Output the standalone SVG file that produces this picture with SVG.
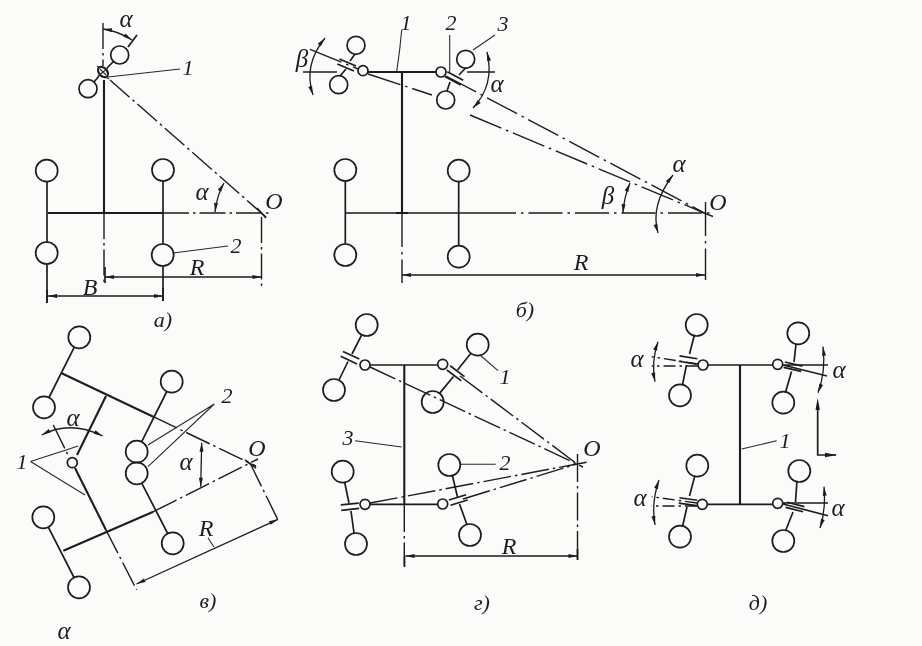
<svg xmlns="http://www.w3.org/2000/svg" xmlns:xlink="http://www.w3.org/1999/xlink" width="922" height="646" viewBox="0 0 922 646">
<style>
.l{fill:none;stroke:#1d1d1d;stroke-width:1.7}
.t{fill:none;stroke:#1d1d1d;stroke-width:2.1}
.n{fill:none;stroke:#2a2a2a;stroke-width:1.1}
.d{fill:none;stroke:#1d1d1d;stroke-width:1.4;stroke-dasharray:34 5 2.5 5}
.a{fill:none;stroke:#1d1d1d;stroke-width:1.3;marker-start:url(#ah);marker-end:url(#ah)}
.c{fill:none;stroke:#1d1d1d;stroke-width:1.7}
text{font-family:"Liberation Serif","Times New Roman",serif;font-style:italic;fill:#1d1d1d;text-anchor:middle}
.g{font-size:25px}.v{font-size:24px}.k{font-size:22px}
</style>
<defs>
<marker id="ah" viewBox="-10 -3 11 6" markerWidth="11" markerHeight="6" refX="0" refY="0" orient="auto-start-reverse" markerUnits="userSpaceOnUse"><path d="M0 0L-9-2L-9 2z" fill="#1d1d1d"/></marker>
<g id="bars"><path d="M-9-2.7H9M-9 2.7H9" fill="none" stroke="#1d1d1d" stroke-width="1.7"/></g>
<filter id="soft" x="0" y="0" width="100%" height="100%"><feGaussianBlur stdDeviation="0.35"/></filter>
</defs>
<rect width="922" height="646" fill="#fbfbfa"/>
<g filter="url(#soft)">

<g id="panel-a">
<g id="a-connectors">
<path class="t" d="M48 213H163M104 80V213"/>
<path class="l" d="M47 181V243M47 264V303M163 181V244M163 266V301"/>
<path class="l" d="M114 61L107 68M99 76L94 82"/>
<path class="d" d="M163 213H272M103 23V66M104 213V282M110 80L266 217M261.500 217V287" style="stroke-dasharray:26 4 2.500 4"/>
<path class="l" d="M257 208L266 218"/>
<path class="a" d="M105 277H261.500"/>
<path class="a" d="M48 296H163"/>
<path class="l" d="M105 267V283M47 290V303M163 288V301"/>
<path class="a" d="M103 29Q118 31 132 40"/>
<path class="a" d="M215 212Q217 195 224 183"/>
<path class="l" d="M137 35L128 47"/>
<path class="n" d="M108 77L180 69M173 253L228 246"/>
</g>
<g id="a-wheels">
<circle class="c" cx="46.700" cy="170.700" r="11"/><circle class="c" cx="163" cy="170" r="11"/>
<circle class="c" cx="46.700" cy="253" r="11"/><circle class="c" cx="162.700" cy="255" r="11"/>
<circle class="c" cx="119.700" cy="55" r="9"/><circle class="c" cx="88" cy="88.700" r="9"/>
<ellipse class="t" cx="103" cy="72" rx="4" ry="6" transform="rotate(-42 103 72)"/>
<path class="n" d="M98 76L108 68M100 69L106 75M97 66L100 68M106 77L109 79"/>
</g>
<g id="a-labels">
<text class="g" x="126" y="27">α</text><text class="k" x="188" y="75">1</text>
<text class="g" x="202" y="200">α</text><text class="k" x="236" y="253">2</text>
<text class="v" x="274" y="209">O</text><text class="v" x="197" y="275">R</text>
<text class="v" x="90" y="295">B</text><text class="k" x="163" y="327">а)</text>
</g>
</g>

<g id="panel-b">
<g id="b-connectors">
<path class="t" d="M367 72H436M402 72V213M396 213H408"/>
<path class="l" d="M345 213H482M345.300 181V244M458.700 182V246"/>
<path class="d" d="M482 213H713M303 72H337M467 72H495M402 213V283M705.500 202V280"/>
<path class="d" d="M310 49.300L358 69M368 74L432 95M470 115L705 213.300L713 216.500"/>
<path class="d" d="M446 76L705 213.300"/>
<path class="l" d="M355 54L350 61M346 69L340 76M466 67.500L459 75M450 82L447 91"/>
<use xlink:href="#bars" href="#bars" transform="translate(346.700 65) rotate(22.500)"/>
<use xlink:href="#bars" href="#bars" transform="translate(454 78.300) rotate(28)"/>
<path class="a" d="M402 275H705"/>
<path class="a" d="M325 38Q303 65 313 95"/>
<path class="a" d="M487 52Q495 85 473 108"/>
<path class="a" d="M673 175Q650 205 658 233"/>
<path class="a" d="M630 183Q624 197 623 213"/>
<path class="n" d="M401.700 30Q400 50 396.700 71.700M449.700 35V71.700M473 50L495 35"/>
</g>
<g id="b-wheels">
<circle class="c" cx="345.300" cy="170" r="11"/><circle class="c" cx="458.700" cy="170.700" r="11"/>
<circle class="c" cx="345.300" cy="255" r="11"/><circle class="c" cx="458.700" cy="256.700" r="11"/>
<circle class="c" cx="356" cy="45.300" r="9"/><circle class="c" cx="338.700" cy="84.700" r="9"/>
<circle class="c" cx="465.700" cy="59.300" r="9"/><circle class="c" cx="445.700" cy="100" r="9"/>
<circle class="c" cx="363" cy="70.700" r="5"/><circle class="c" cx="441" cy="72" r="5"/>
</g>
<g id="b-labels">
<text class="k" x="406" y="30">1</text><text class="k" x="451" y="30">2</text><text class="k" x="503" y="31">3</text>
<text class="g" x="302" y="67">β</text><text class="g" x="497" y="92">α</text>
<text class="g" x="679" y="172">α</text><text class="g" x="608" y="204">β</text>
<text class="v" x="718" y="210">O</text><text class="v" x="581" y="270">R</text><text class="k" x="525" y="317">б)</text>
</g>
</g>

<g id="panel-v">
<g id="v-connectors">
<path class="t" d="M61.700 373.300L153.300 416.700M63.300 550.700L153.300 511.700M106 396L77 455M75 468L106 530"/>
<path class="l" d="M74.300 347.100L49 397.500M166.800 391.500L141.600 441.900M141.700 483.100L167.700 533.500M48.300 527.100L74 577.500"/>
<path class="d" d="M153.300 416.700L256 466M153.300 511.700L258 459M106 530L136.700 590M53.300 425L69 457M250 463L278 520" style="stroke-dasharray:26 4 2.500 4"/>
<path class="l" d="M245 460L256 468"/>
<path class="a" d="M136.500 584L278 519.300"/>
<path class="a" d="M41.700 435Q70 420 102.700 436"/>
<path class="a" d="M201.700 442.700L200.700 486.700"/>
<path class="n" d="M30.500 461.500L78.300 446M30.500 461.500L85 495M214.300 404L148 445M214.300 404L148 466.700M208 538L214 547"/>
</g>
<g id="v-wheels">
<circle class="c" cx="79.300" cy="337.300" r="11"/><circle class="c" cx="44" cy="407.300" r="11"/>
<circle class="c" cx="171.700" cy="381.700" r="11"/><circle class="c" cx="136.700" cy="451.700" r="11"/>
<circle class="c" cx="136.700" cy="473.300" r="11"/><circle class="c" cx="172.700" cy="543.300" r="11"/>
<circle class="c" cx="43.300" cy="517.300" r="11"/><circle class="c" cx="79" cy="587.300" r="11"/>
<circle class="c" cx="72.300" cy="462.700" r="5"/>
</g>
<g id="v-labels">
<text class="k" x="22" y="469">1</text><text class="k" x="227" y="403">2</text>
<text class="g" x="73" y="426">α</text><text class="g" x="186" y="470">α</text>
<text class="v" x="257" y="456">O</text><text class="v" x="206" y="536">R</text>
<text class="k" x="208" y="608">в)</text><text class="g" x="64" y="639">α</text>
</g>
</g>

<g id="panel-g">
<g id="g-connectors">
<path class="t" d="M404.300 365V504"/>
<path class="l" d="M370 365H437.500M370 504.300H437.500"/>
<path class="l" d="M361.700 334.800L352 354M348 361.500L339 380M470.900 353.300L457.500 370M453.500 376.500L439.500 393.400M344.700 482.500L349 503M351 511L354 533M452.400 475.500L457.500 497M459.500 504L466.900 524.500"/>
<use xlink:href="#bars" href="#bars" transform="translate(350 357.700) rotate(25)"/>
<use xlink:href="#bars" href="#bars" transform="translate(455.700 373.300) rotate(37)"/>
<use xlink:href="#bars" href="#bars" transform="translate(350 506.700) rotate(-6)"/>
<use xlink:href="#bars" href="#bars" transform="translate(458.300 500) rotate(-17)"/>
<path class="d" d="M370 367L577 464L583 467M460 376L577 464M370 503L577 464L588 462M463 499L577 464" style="stroke-dasharray:28 4 2.500 4"/>
<path class="d" d="M404.300 504V566M577.500 454V560" style="stroke-dasharray:28 4 2.500 4"/>
<path class="l" d="M404.500 556V567M577.500 549V560"/>
<path class="a" d="M405.500 556H577.500"/>
<path class="n" d="M480 355L498 370.700M355 440.700L401.700 447M460 464.300H495.700"/>
</g>
<g id="g-wheels">
<circle class="c" cx="366.700" cy="325" r="11"/><circle class="c" cx="334" cy="390" r="11"/>
<circle class="c" cx="477.700" cy="344.700" r="11"/><circle class="c" cx="432.700" cy="402" r="11"/>
<circle class="c" cx="449.300" cy="465" r="11"/><circle class="c" cx="470" cy="535" r="11"/>
<circle class="c" cx="342.700" cy="471.700" r="11"/><circle class="c" cx="356" cy="544" r="11"/>
<circle class="c" cx="365" cy="365" r="5"/><circle class="c" cx="442.700" cy="364.300" r="5"/>
<circle class="c" cx="365" cy="504.300" r="5"/><circle class="c" cx="442.700" cy="504" r="5"/>
</g>
<g id="g-labels">
<text class="k" x="505" y="384">1</text><text class="k" x="505" y="470">2</text><text class="k" x="348" y="445">3</text>
<text class="v" x="592" y="456">O</text><text class="v" x="509" y="554">R</text><text class="k" x="482" y="610">г)</text>
</g>
</g>

<g id="panel-d">
<g id="d-connectors">
<path class="t" d="M740 365V504"/>
<path class="l" d="M708 365H773M707.500 504.300H773"/>
<path class="l" d="M694.200 335.700L689.500 354M686.500 365L682.500 384.600M796 344L794 362M791.500 371.500L785.600 392M694.700 476.400L689.500 496M687 507L682.600 526M796.900 481.700L795.500 502M793 512L785.800 530.300"/>
<use xlink:href="#bars" href="#bars" transform="translate(688 360) rotate(9)"/>
<use xlink:href="#bars" href="#bars" transform="translate(793 366.700) rotate(13)"/>
<use xlink:href="#bars" href="#bars" transform="translate(688 501.700) rotate(8)"/>
<use xlink:href="#bars" href="#bars" transform="translate(795 507) rotate(14)"/>
<path class="d" d="M698 364L651.700 356.700M698 366H651.700M697 503L651.700 496.700M697 506H651.700" style="stroke-dasharray:12 4 2.500 4"/>
<path class="l" d="M783 365H828M783 365L827 376M783 503H828M783 504L828 515.700"/>
<path class="a" d="M658 341.700Q651 362 655 381.700"/>
<path class="a" d="M823 346.700Q826 372 818 392.700"/>
<path class="a" d="M659 480Q651 503 655 525"/>
<path class="a" d="M824 486.700Q826 510 820 528"/>
<path class="l" d="M817.700 408V455H836"/>
<path d="M817.700 398L815.500 410H819.900zM837 455L825 452.800V457.200z" fill="#1d1d1d"/>
<path class="n" d="M741.700 449L776.700 440.700"/>
</g>
<g id="d-wheels">
<circle class="c" cx="696.700" cy="325" r="11"/><circle class="c" cx="680" cy="395.300" r="11"/>
<circle class="c" cx="798.300" cy="333.300" r="11"/><circle class="c" cx="783.300" cy="402.700" r="11"/>
<circle class="c" cx="697.300" cy="465.700" r="11"/><circle class="c" cx="680" cy="536.700" r="11"/>
<circle class="c" cx="799.300" cy="471" r="11"/><circle class="c" cx="783.300" cy="541" r="11"/>
<circle class="c" cx="703" cy="365" r="5"/><circle class="c" cx="777.700" cy="364.300" r="5"/>
<circle class="c" cx="702.300" cy="504.300" r="5"/><circle class="c" cx="777.700" cy="503.300" r="5"/>
</g>
<g id="d-labels">
<text class="g" x="637" y="367">α</text><text class="g" x="839" y="378">α</text>
<text class="g" x="640" y="506">α</text><text class="g" x="838" y="516">α</text>
<text class="k" x="785" y="448">1</text><text class="k" x="758" y="610">д)</text>
</g>
</g>
</g>
</svg>
